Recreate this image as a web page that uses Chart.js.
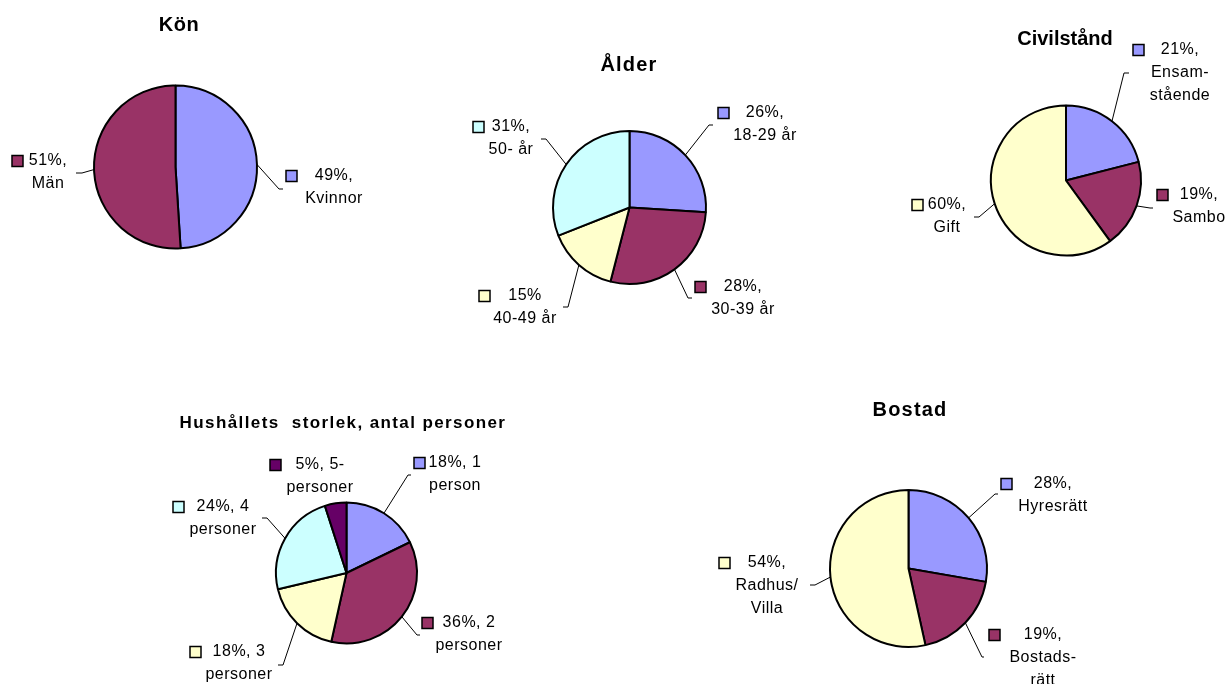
<!DOCTYPE html>
<html>
<head>
<meta charset="utf-8">
<script src="https://cdn.jsdelivr.net/npm/chart.js@4/dist/chart.umd.min.js"></script>
<style>
  html, body { margin: 0; padding: 0; background: #fff; }
  #wrap { position: relative; width: 1227px; height: 684px; }
  #wrap canvas { position: absolute; left: 0; top: 0; }
</style>
</head>
<body>
<div id="wrap">
  <canvas id="kon" width="1227" height="684"></canvas>
  <canvas id="alder" width="1227" height="684"></canvas>
  <canvas id="civil" width="1227" height="684"></canvas>
  <canvas id="hushall" width="1227" height="684"></canvas>
  <canvas id="bostad" width="1227" height="684"></canvas>
</div>
<script>
// Data
const konCategories = ['Kvinnor', 'Män'];
const konValues = [49, 51];

const alderCategories = ['18-29 år', '30-39 år', '40-49 år', '50- år'];
const alderValues = [26, 28, 15, 31];

const civilCategories = ['Ensam-\nstående', 'Sambo', 'Gift'];
const civilValues = [21, 19, 60];

const hushallCategories = ['1\nperson', '2\npersoner', '3\npersoner', '4\npersoner', '5-\npersoner'];
const hushallValues = [18, 36, 18, 24, 5];

const bostadCategories = ['Hyresrätt', 'Bostads-\nrätt', 'Radhus/\nVilla'];
const bostadValues = [28, 19, 54];

// Colours (Excel palette)
const BLUE = '#9999FF';
const PLUM = '#993366';
const YELLOW = '#FFFFCC';
const CYAN = '#CCFFFF';
const DARK = '#660066';

const W = 1227, H = 684;
const LINE_H = 23;

// draws title, label texts, legend keys and leader lines
const sliceLabels = {
  id: 'sliceLabels',
  afterDraw(chart, args, opts) {
    const ctx = chart.ctx;
    const arcs = chart.getDatasetMeta(0).data;
    const values = chart.data.datasets[0].data;
    const colors = chart.data.datasets[0].backgroundColor;
    ctx.save();
    ctx.fillStyle = '#000';
    ctx.textAlign = 'center';
    ctx.textBaseline = 'middle';
    ctx.font = 'bold ' + opts.titleSize + 'px "Liberation Sans", Arial, sans-serif';
    ctx.letterSpacing = opts.titleSpacing + 'px';
    ctx.fillText(opts.title, opts.titleX, opts.titleY);

    ctx.font = '16px "Liberation Sans", Arial, sans-serif';
    ctx.letterSpacing = '0.5px';
    opts.labels.forEach((l, i) => {
      const sep = l.sep !== undefined ? l.sep : opts.sep;
      const text = values[i] + '%' + sep + chart.data.labels[i];
      text.split('\n').forEach((line, j) => {
        ctx.fillStyle = '#000';
        ctx.fillText(line, l.tx, l.ty + j * LINE_H);
      });
      // legend key
      ctx.fillStyle = colors[i];
      ctx.fillRect(l.kx, l.ty - 5.5, 11, 11);
      ctx.lineWidth = 1.5;
      ctx.strokeStyle = '#000';
      ctx.strokeRect(l.kx, l.ty - 5.5, 11, 11);
      // leader line
      if (l.ex !== undefined) {
        const a = arcs[i];
        const mid = (a.startAngle + a.endAngle) / 2;
        const sx = a.x + Math.cos(mid) * a.outerRadius;
        const sy = a.y + Math.sin(mid) * a.outerRadius;
        ctx.beginPath();
        ctx.lineWidth = 1;
        ctx.moveTo(sx, sy);
        ctx.lineTo(l.ex, l.ey);
        ctx.lineTo(l.ex2, l.ey);
        ctx.stroke();
      }
    });
    ctx.restore();
  }
};

function makePie(id, categories, values, colors, cx, cy, r, labelOpts) {
  const s = r + 4;
  return new Chart(document.getElementById(id), {
    type: 'pie',
    data: {
      labels: categories,
      datasets: [{
        data: values,
        backgroundColor: colors,
        borderColor: '#000',
        borderWidth: 2,
      }],
    },
    options: {
      responsive: false,
      animation: false,
      events: [],
      radius: r,
      layout: {
        padding: { left: cx - s, top: cy - s, right: W - cx - s, bottom: H - cy - s },
      },
      plugins: {
        legend: { display: false },
        tooltip: { enabled: false },
        sliceLabels: labelOpts,
      },
    },
    plugins: [sliceLabels],
  });
}

makePie('kon', konCategories, konValues, [BLUE, PLUM], 175.5, 167, 81.5, {
  title: 'Kön', titleX: 179, titleY: 25, titleSize: 20, titleSpacing: 0.5, sep: ',\n',
  labels: [
    { tx: 334, ty: 176, kx: 286, ex: 279, ey: 189, ex2: 283 },
    { tx: 48, ty: 161, kx: 12, ex: 82, ey: 173, ex2: 76 },
  ],
});

makePie('alder', alderCategories, alderValues, [BLUE, PLUM, YELLOW, CYAN], 629.5, 207.5, 76.5, {
  title: 'Ålder', titleX: 629, titleY: 65, titleSize: 20, titleSpacing: 1.2, sep: ',\n',
  labels: [
    { tx: 765, ty: 113, kx: 718, ex: 709, ey: 125, ex2: 713 },
    { tx: 743, ty: 287, kx: 695, ex: 688, ey: 298, ex2: 692 },
    { tx: 525, ty: 296, kx: 479, ex: 568, ey: 307, ex2: 563, sep: '\n' },
    { tx: 511, ty: 127, kx: 473, ex: 546, ey: 139, ex2: 541 },
  ],
});

makePie('civil', civilCategories, civilValues, [BLUE, PLUM, YELLOW], 1066, 180.5, 75, {
  title: 'Civilstånd', titleX: 1065, titleY: 39, titleSize: 20, titleSpacing: 0, sep: ',\n',
  labels: [
    { tx: 1180, ty: 50, kx: 1133, ex: 1124, ey: 73, ex2: 1129 },
    { tx: 1199, ty: 195, kx: 1157, ex: 1150, ey: 208, ex2: 1153 },
    { tx: 947, ty: 205, kx: 912, ex: 979, ey: 217, ex2: 974 },
  ],
});

makePie('hushall', hushallCategories, hushallValues, [BLUE, PLUM, YELLOW, CYAN, DARK], 346.5, 573, 70.5, {
  title: 'Hushållets  storlek, antal personer', titleX: 343, titleY: 423, titleSize: 17, titleSpacing: 1.4, sep: ', ',
  labels: [
    { tx: 455, ty: 463, kx: 414, ex: 408, ey: 475, ex2: 411 },
    { tx: 469, ty: 623, kx: 422, ex: 417, ey: 635, ex2: 420 },
    { tx: 239, ty: 652, kx: 190, ex: 283, ey: 665, ex2: 278 },
    { tx: 223, ty: 507, kx: 173, ex: 267, ey: 518, ex2: 262 },
    { tx: 320, ty: 465, kx: 270 },
  ],
});

makePie('bostad', bostadCategories, bostadValues, [BLUE, PLUM, YELLOW], 908.5, 568.5, 78.5, {
  title: 'Bostad', titleX: 910, titleY: 410, titleSize: 20, titleSpacing: 1.2, sep: ',\n',
  labels: [
    { tx: 1053, ty: 484, kx: 1001, ex: 995, ey: 494, ex2: 998 },
    { tx: 1043, ty: 635, kx: 989, ex: 982, ey: 657, ex2: 984 },
    { tx: 767, ty: 563, kx: 719, ex: 815, ey: 585, ex2: 810 },
  ],
});
</script>
</body>
</html>
